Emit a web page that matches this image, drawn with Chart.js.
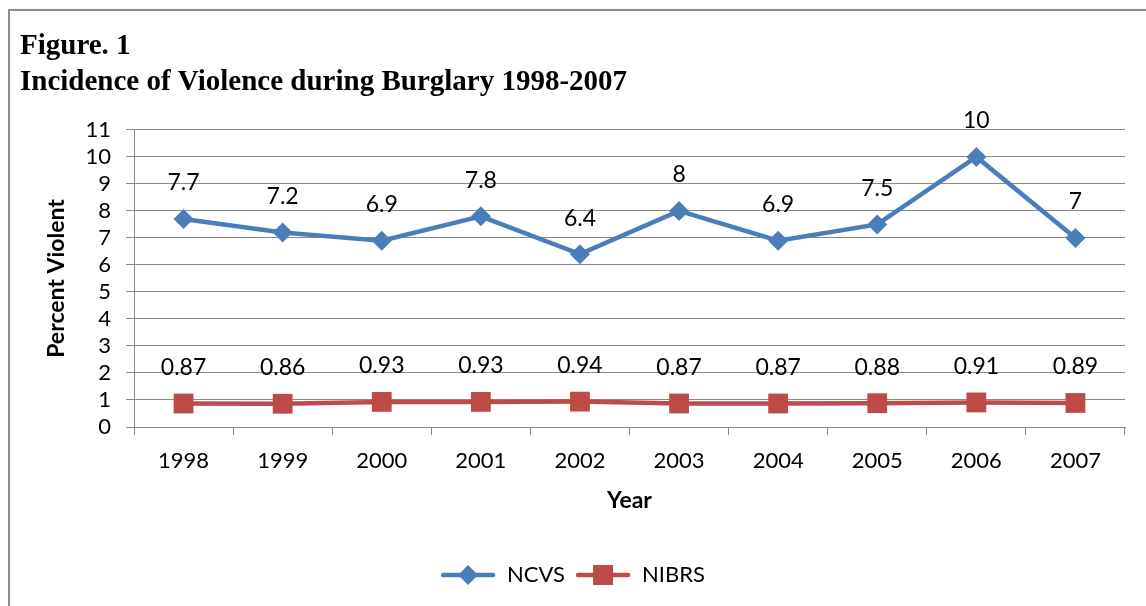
<!DOCTYPE html>
<html>
<head>
<meta charset="utf-8">
<script src="https://cdn.jsdelivr.net/npm/chart.js@4"></script>
<style>
  html, body { margin: 0; padding: 0; background: #fff; overflow: hidden; }
  #frame {
    position: absolute; left: 8px; top: 9px; width: 1170px; height: 640px;
    border: 2px solid #8c8c8c; box-sizing: border-box;
  }
  #wrap { position: absolute; left: 0; top: 0; width: 1146px; height: 606px; }
</style>
</head>
<body>
<div id="frame"></div>
<div id="wrap"><canvas id="chart" width="1146" height="606"></canvas></div>
<script>
// chart values
const years = ['1998', '1999', '2000', '2001', '2002', '2003', '2004', '2005', '2006', '2007'];
const ncvs = [7.7, 7.2, 6.9, 7.8, 6.4, 8, 6.9, 7.5, 10, 7];
const nibrs = [0.87, 0.86, 0.93, 0.93, 0.94, 0.87, 0.87, 0.88, 0.91, 0.89];
const yMin = 0;
const yMax = 11;
const yStep = 1;

const blue = '#4A7EBB';
const red = '#BE4B48';
const gridGray = '#8a8a8a';
const font = 'Lato';

// legend marker: short line with the point shape on it
function legendIcon(color, shape) {
    const c = document.createElement('canvas');
    c.width = 56;
    c.height = 22;
    const ctx = c.getContext('2d');
    ctx.strokeStyle = color;
    ctx.lineWidth = 4.5;
    ctx.lineCap = 'round';
    ctx.beginPath();
    ctx.moveTo(3, 11);
    ctx.lineTo(53, 11);
    ctx.stroke();
    ctx.fillStyle = color;
    ctx.beginPath();
    if (shape === 'diamond') {
        ctx.moveTo(28, 1); ctx.lineTo(38, 11); ctx.lineTo(28, 21); ctx.lineTo(18, 11);
    } else {
        ctx.rect(18, 1, 20, 20);
    }
    ctx.closePath();
    ctx.fill();
    return c;
}

// value labels above every point
const valueLabels = {
    id: 'valueLabels',
    afterDatasetsDraw(chart) {
        const ctx = chart.ctx;
        ctx.save();
        ctx.font = '23px ' + font;
        ctx.fillStyle = '#000';
        ctx.textAlign = 'center';
        ctx.textBaseline = 'middle';
        chart.data.datasets.forEach((ds, i) => {
            chart.getDatasetMeta(i).data.forEach((pt, j) => {
                ctx.fillText(String(ds.data[j]), pt.x, pt.y - 36);
            });
        });
        ctx.restore();
    }
};

const ctx = document.getElementById('chart').getContext('2d');
const chart = new Chart(ctx, {
    type: 'line',
    data: {
        labels: years,
        datasets: [{
            label: 'NCVS',
            data: ncvs,
            borderColor: blue,
            backgroundColor: blue,
            borderWidth: 4.5,
            pointStyle: 'rectRot',
            pointRadius: 10,
            pointBorderWidth: 0,
            tension: 0,
            fill: false
        }, {
            label: 'NIBRS',
            data: nibrs,
            borderColor: red,
            backgroundColor: red,
            borderWidth: 4.5,
            pointStyle: 'rect',
            pointRadius: 14,
            pointBorderWidth: 0,
            tension: 0,
            fill: false
        }]
    },
    options: {
        responsive: false,
        animation: false,
        layout: { padding: { left: 20, right: 21, top: 29, bottom: 10 } },
        plugins: {
            title: {
                display: true,
                text: ['Figure. 1', 'Incidence of Violence during Burglary 1998-2007'],
                align: 'start',
                color: '#000',
                font: { family: '"Liberation Serif", "Times New Roman", serif', size: 29, weight: 'bold', lineHeight: 1.24 },
                padding: { top: 0, bottom: 29 }
            },
            legend: {
                position: 'bottom',
                labels: {
                    usePointStyle: true,
                    pointStyleWidth: 56,
                    boxHeight: 22,
                    color: '#000',
                    font: { family: font, size: 22 },
                    padding: 10,
                    generateLabels(chart) {
                        return chart.data.datasets.map((ds, i) => ({
                            text: ds.label,
                            pointStyle: legendIcon(ds.borderColor, i === 0 ? 'diamond' : 'square'),
                            fillStyle: ds.borderColor,
                            strokeStyle: ds.borderColor,
                            lineWidth: 0,
                            datasetIndex: i,
                            fontColor: '#000'
                        }));
                    }
                }
            },
            tooltip: { enabled: false }
        },
        scales: {
            x: {
                offset: true,
                afterFit(scale) { scale.height = 127; },
                grid: {
                    offset: true,
                    drawOnChartArea: false,
                    drawTicks: true,
                    tickLength: 8,
                    color: gridGray
                },
                border: { display: true, color: gridGray, width: 1 },
                ticks: { color: '#000', font: { family: font, size: 22 }, padding: 13, maxRotation: 0 },
                title: {
                    display: true,
                    text: 'Year',
                    color: '#000',
                    font: { family: font, size: 23, weight: 'bold' },
                    padding: { top: 0, bottom: 40 }
                }
            },
            y: {
                min: yMin,
                max: yMax,
                afterFit(scale) { scale.width = 114; },
                grid: { color: gridGray, lineWidth: 1, drawTicks: true, tickLength: 8 },
                border: { display: true, color: gridGray, width: 1 },
                ticks: { stepSize: yStep, autoSkip: false, color: '#000', font: { family: font, size: 22 }, padding: 15 },
                title: {
                    display: true,
                    text: 'Percent Violent',
                    color: '#000',
                    font: { family: font, size: 23, weight: 'bold' },
                    padding: { top: 23, bottom: 0 }
                }
            }
        }
    },
    plugins: [valueLabels]
});
</script>
</body>
</html>
